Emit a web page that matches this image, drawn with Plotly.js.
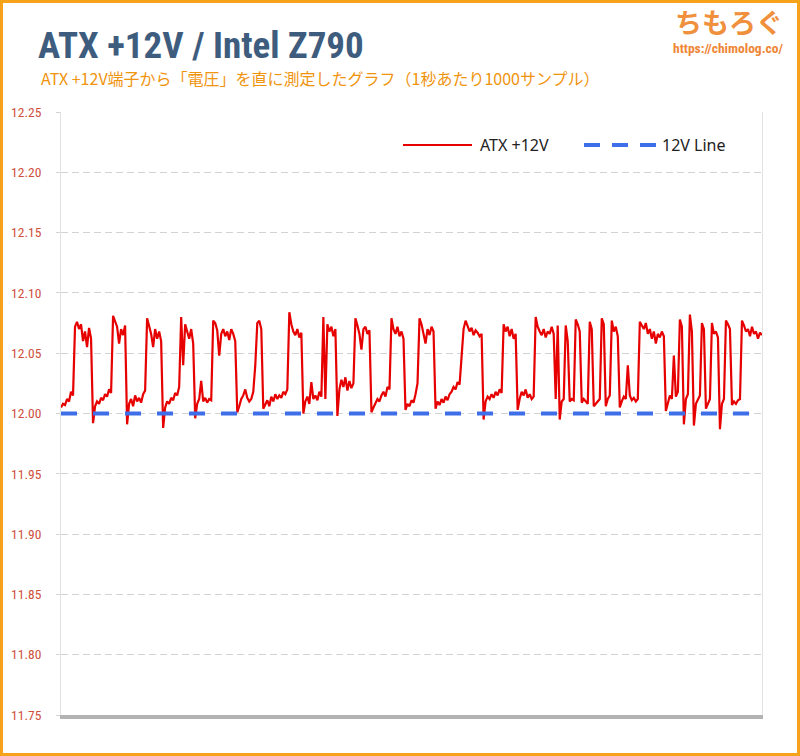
<!DOCTYPE html>
<html>
<head>
<meta charset="utf-8">
<script src="https://cdn.plot.ly/plotly-3.0.1.min.js"></script>
<style>
  html, body { margin: 0; padding: 0; background: #fff; }
  #wrap { position: relative; width: 800px; height: 756px; }
  #chart { position: absolute; left: 0; top: 0; width: 800px; height: 756px; }
  #frame { position: absolute; left: 0; top: 0; width: 800px; height: 756px; box-sizing: border-box; border: 3px solid #f7a21b; pointer-events: none; }
</style>
</head>
<body>
<div id="wrap"><div id="chart"></div><div id="frame"></div></div>
<script>
// ---- data ----
const chartTitle = "ATX +12V / Intel Z790";
const chartSubtitle = "ATX +12V端子から「電圧」を直に測定したグラフ（1秒あたり1000サンプル）";
const seriesNames = ["ATX +12V", "12V Line"];
const refVoltage = 12.0;
const yTickValues = [11.75, 11.80, 11.85, 11.90, 11.95, 12.00, 12.05, 12.10, 12.15, 12.20, 12.25];
const atxVoltage = [
  12.005, 12.008, 12.007, 12.012, 12.010, 12.018, 12.015,
  12.072, 12.076, 12.070, 12.074, 12.060, 12.068, 12.055, 12.071, 12.062,
  11.992, 12.006, 12.010, 12.008, 12.013, 12.011, 12.016, 12.014, 12.020, 12.017,
  12.081, 12.076, 12.072, 12.058, 12.070, 12.065, 12.073,
  11.991, 12.008, 12.012, 12.006, 12.015, 12.010, 12.013, 12.009, 12.016, 12.019,
  12.079, 12.073, 12.066, 12.055, 12.070, 12.062, 12.068, 12.060,
  11.988, 12.005, 12.010, 12.008, 12.013, 12.011, 12.017, 12.015, 12.022,
  12.080, 12.040, 12.074, 12.068, 12.062, 12.070, 12.058,
  11.996, 12.008, 12.012, 12.027, 12.010, 12.013, 12.009, 12.012, 12.011,
  12.077, 12.075, 12.069, 12.048, 12.066, 12.070, 12.064, 12.068, 12.061, 12.070, 12.066, 12.060,
  12.001, 12.006, 12.012, 12.015, 12.020, 12.013, 12.010, 12.012, 12.018,
  12.040, 12.075, 12.077, 12.070,
  12.004, 12.008, 12.011, 12.006, 12.014, 12.010, 12.016, 12.012, 12.015, 12.013, 12.018, 12.016, 12.020,
  12.084, 12.074, 12.068, 12.065, 12.070, 12.063, 12.067,
  12.000, 12.010, 12.014, 12.008, 12.026, 12.012, 12.015, 12.011, 12.018, 12.014,
  12.080, 12.012, 12.074, 12.068, 12.072, 12.064, 12.070,
  11.998, 12.020, 12.028, 12.022, 12.030, 12.019, 12.027, 12.021, 12.025,
  12.079, 12.073, 12.066, 12.053, 12.070, 12.072, 12.066, 12.069,
  12.001, 12.005, 12.008, 12.012, 12.010, 12.015, 12.018, 12.014, 12.022, 12.020,
  12.079, 12.070, 12.066, 12.072, 12.064, 12.068, 12.062,
  12.003, 12.008, 12.006, 12.011, 12.009, 12.016, 12.025,
  12.079, 12.074, 12.066, 12.058, 12.070, 12.065, 12.072, 12.068,
  12.004, 12.010, 12.007, 12.012, 12.009, 12.014, 12.011, 12.016, 12.018, 12.022, 12.020, 12.026, 12.024,
  12.050, 12.070, 12.077, 12.072, 12.068, 12.071, 12.065, 12.069, 12.067, 12.064, 12.066,
  11.995, 12.010, 12.014, 12.012, 12.016, 12.013, 12.018, 12.015, 12.020, 12.017,
  12.074, 12.068, 12.072, 12.064, 12.070, 12.062, 12.066,
  12.003, 12.012, 12.018, 12.015, 12.020, 12.013, 12.016, 12.012, 12.014,
  12.080, 12.072, 12.068, 12.065, 12.070, 12.063, 12.068, 12.066, 12.072, 12.066,
  12.012, 12.073, 11.995, 12.010, 12.012,
  12.073, 12.060, 12.010, 12.012, 12.011,
  12.078, 12.074, 12.068,
  12.009, 12.012, 12.010, 12.008,
  12.076, 12.070, 12.006, 12.008, 12.010, 12.012,
  12.079, 12.074, 12.006, 12.012, 12.015,
  12.077, 12.068, 12.072, 12.064,
  12.005, 12.010, 12.014, 12.012, 12.040, 12.015, 12.011, 12.013, 12.010, 12.012,
  12.076, 12.073, 12.070, 12.075, 12.066, 12.070, 12.062, 12.068, 12.058, 12.066, 12.063, 12.068, 12.064,
  12.002, 12.010, 12.015, 12.012, 12.048, 12.014, 12.018,
  12.078, 12.072, 11.991, 12.012, 12.016,
  12.082, 12.068, 11.990, 12.008, 12.012, 12.015,
  12.075, 12.070, 12.004, 12.008, 12.012,
  12.075, 12.066, 12.068, 12.063,
  11.987, 12.008, 12.012,
  12.077, 12.074, 12.070,
  12.007, 12.010, 12.008, 12.011, 12.012,
  12.077, 12.073, 12.068, 12.070, 12.064, 12.072, 12.066, 12.068, 12.062, 12.067, 12.065
];

// ---- build ----
const sampleIdx = atxVoltage.map((_, i) => i);
const lastIdx = sampleIdx[sampleIdx.length - 1];

const W = 800, H = 756;
const M = { l: 61, r: 38, t: 112, b: 41 };
const PW = W - M.l - M.r, PH = H - M.t - M.b;
const px = x => (x - M.l) / PW;
const py = y => (H - M.b - y) / PH;

const RED = "#e60000", BLUE = "#3f6ee9";

const traces = [
  { x: sampleIdx, y: atxVoltage, type: "scatter", mode: "lines", name: seriesNames[0],
    line: { color: RED, width: 2.2 }, hoverinfo: "skip" },
  { x: [sampleIdx[0], lastIdx], y: [refVoltage, refVoltage], type: "scatter", mode: "lines", name: seriesNames[1],
    line: { color: BLUE, width: 4, dash: "16px,16px" }, hoverinfo: "skip" }
];

const narrow = "'Liberation Sans Narrow', 'Roboto Condensed', 'DejaVu Sans Condensed', Roboto, sans-serif";

const layout = {
  width: W, height: H,
  margin: M,
  paper_bgcolor: "#ffffff", plot_bgcolor: "#ffffff",
  showlegend: false,
  title: {
    text: "<b>" + chartTitle + "</b>",
    font: { family: narrow, size: 37, color: "#3e5d7e" },
    xref: "container", yref: "container",
    x: 38 / W, xanchor: "left",
    y: 1 - 45 / H, yanchor: "middle"
  },
  xaxis: {
    range: [0, lastIdx],
    showgrid: false, zeroline: false, showticklabels: false, ticks: "",
    showline: true, linecolor: "#b3b3b3", linewidth: 4
  },
  yaxis: {
    range: [11.75, 12.25],
    tickvals: yTickValues,
    tickformat: ".2f",
    showgrid: true, gridcolor: "#d3d3d3", gridwidth: 1, griddash: "7px,4px",
    zeroline: false,
    showline: true, linecolor: "#e2e2e2", linewidth: 1, mirror: true,
    ticks: "outside", ticklen: 4, tickcolor: "#d3d3d3",
    ticklabelstandoff: 12,
    tickfont: { family: narrow, size: 13.5, color: "#cf5040" }
  },
  shapes: [
    { type: "line", xref: "paper", yref: "paper", x0: px(403), x1: px(472), y0: py(145), y1: py(145),
      line: { color: RED, width: 2 } },
    { type: "line", xref: "paper", yref: "paper", x0: px(584), x1: px(657), y0: py(145), y1: py(145),
      line: { color: BLUE, width: 4, dash: "16px,12px" } }
  ],
  annotations: [
    { text: chartSubtitle, xref: "paper", yref: "paper", x: px(39), y: py(78),
      xanchor: "left", yanchor: "middle", showarrow: false,
      font: { family: "'Noto Sans CJK JP', 'Noto Sans', sans-serif", size: 16, color: "#f0940e" } },
    { text: seriesNames[0], xref: "paper", yref: "paper", x: px(478), y: py(145),
      xanchor: "left", yanchor: "middle", showarrow: false,
      font: { family: "'Noto Sans', sans-serif", size: 16, color: "#222222" } },
    { text: seriesNames[1], xref: "paper", yref: "paper", x: px(660), y: py(145),
      xanchor: "left", yanchor: "middle", showarrow: false,
      font: { family: "'Noto Sans', sans-serif", size: 16, color: "#222222" } },
    { text: "<b>ちもろぐ</b>", xref: "paper", yref: "paper", x: px(729), y: py(21.5),
      xanchor: "center", yanchor: "middle", showarrow: false,
      font: { family: "'Noto Sans CJK JP', sans-serif", size: 27, color: "#f0903c" } },
    { text: "<b>https://chimolog.co/</b>", xref: "paper", yref: "paper", x: px(728), y: py(48),
      xanchor: "center", yanchor: "middle", showarrow: false,
      font: { family: narrow, size: 13.5, color: "#ee8636" } }
  ]
};

Plotly.newPlot("chart", traces, layout, { staticPlot: true, displayModeBar: false });
</script>
</body>
</html>
